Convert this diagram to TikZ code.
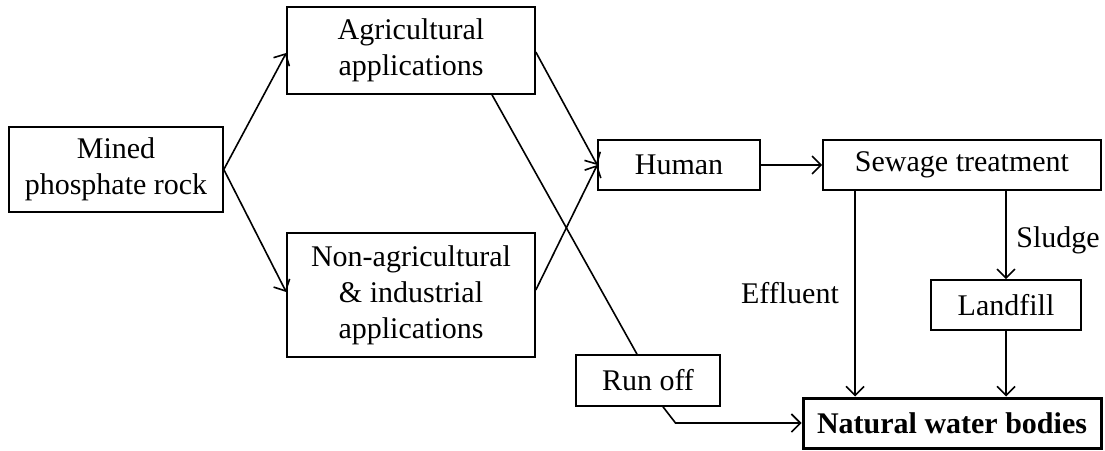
\documentclass[tikz,border=0pt]{standalone}
\usepackage{fontspec}
\setmainfont{Liberation Serif}
\usetikzlibrary{arrows.meta}
\tikzset{
  box/.style={draw, line width=1.6pt, rectangle, align=center, inner sep=0pt,
    font=\fontsize{30}{36}\selectfont},
  lbl/.style={font=\fontsize{30}{36}\selectfont, inner sep=0pt},
  arr/.style={line width=1.6pt, -{Straight Barb[length=9pt,width=18pt,line width=1.6pt]}},
  ln/.style={line width=1.6pt}
}
\begin{document}
\begin{tikzpicture}[x=1pt,y=-1pt]
\path[use as bounding box, fill=white] (0,0) rectangle (1105,450);
\node[box, minimum width=214pt, minimum height=85pt] (mined) at (116,169.5) {Mined\\phosphate rock};
\node[box, minimum width=248pt, minimum height=87pt] (agri) at (411,50.5) {Agricultural\\applications};
\node[box, minimum width=248pt, minimum height=124pt] (nonagri) at (411,295) {Non-agricultural\\\&\ industrial\\applications};
\node[box, minimum width=162pt, minimum height=50pt] (human) at (679,165) {Human};
\node[box, minimum width=278pt, minimum height=50pt] (sewage) at (962,165) {Sewage treatment};
\node[box, minimum width=150pt, minimum height=50pt] (landfill) at (1006,305) {Landfill};
\node[box, minimum width=144pt, minimum height=51pt] (runoff) at (648,380.5) {Run off};
\node[box, line width=3pt, minimum width=298pt, minimum height=50pt, font=\fontsize{30}{36}\selectfont\bfseries] (nwb) at (952,423) {Natural water bodies};
\node[lbl] (efflbl) at (790,293) {Effluent};
\node[lbl] (sludgelbl) at (1058,240) {Sludge};
\coordinate (eff) at (855,0);
% arrows
\draw[arr] (mined.east) -- ([yshift=-2.5pt]agri.west);
\draw[arr] (mined.east) -- ([yshift=3pt]nonagri.west);
\draw[arr] ([yshift=-1.5pt]agri.east) -- (human.west);
\draw[arr] ([yshift=5pt]nonagri.east) -- (human.west);
\draw[arr] (human.east) -- (sewage.west);
\draw[arr] (sewage.south -| eff) -- (nwb.north -| eff);
\draw[arr] (sewage.south -| landfill) -- (landfill.north);
\draw[arr] (landfill.south) -- (nwb.north -| landfill);
\draw[ln] ([xshift=81pt]agri.south) -- ([xshift=-11pt]runoff.north);
\draw[arr] ([xshift=15pt]runoff.south) -- ([xshift=-126pt]nwb.west) -- (nwb.west);
\end{tikzpicture}
\end{document}
